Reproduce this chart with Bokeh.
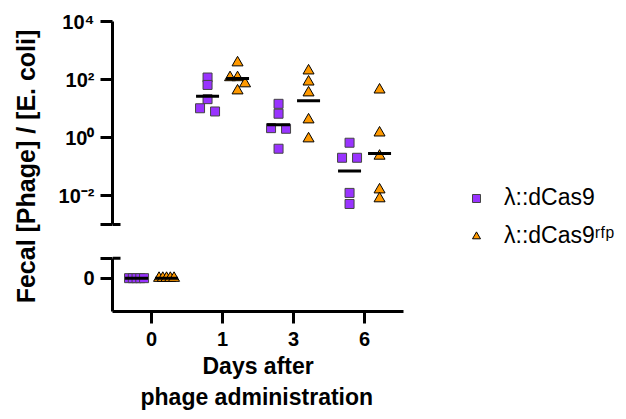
import numpy as np
from bokeh.plotting import figure
from bokeh.models import (ColumnDataSource, Range1d, FixedTicker, Legend, LegendItem, LinearScale, Title)
from bokeh.embed import file_html
from bokeh.resources import INLINE

# ---------------- data ----------------
days = ["0", "1", "3", "6"]
series_names = ["λ::dCas9", "λ::dCas9ʳᶠᵖ"]

dcas9_day0 = [0, 0, 0, 0, 0]
dcas9_day1 = [117, 65, 21, 10.2, 7.9]
dcas9_day3 = [14.5, 6.6, 2.1, 2.0, 0.41]
dcas9_day6 = [0.66, 0.20, 0.20, 0.0123, 0.0051]

rfp_day0 = [0, 0, 0, 0, 0]
rfp_day1 = [380, 117, 117, 72, 41]
rfp_day3 = [200, 83, 35, 4.1, 0.91]
rfp_day6 = [44, 1.45, 0.23, 0.0158, 0.0078]

y_tick_values = [1e-2, 1, 1e2, 1e4]
y_tick_labels = ["10⁻²", "10⁰", "10²", "10⁴"]
zero_tick_label = "0"
x_title_lines = ["Days after", "phage administration"]
y_title = "Fecal [Phage] / [E. coli]"

# ---------------- style / layout ----------------
FONT = "Liberation Sans"
PURPLE = "#9933FF"
ORANGE = "#FF9900"
W, H = 620, 415
BL, BR, BT, BB = 112, 5, 21, 104
FRAME_H = H - BT - BB
PX_PER_DAY = 71.0
X_START = -0.55
X_END = X_START + (W - BL - BR) / PX_PER_DAY
X_AXIS_END = X_START + 291 / PX_PER_DAY
GROUP_OFF = 15 / PX_PER_DAY
SPREAD = 7.5 / PX_PER_DAY
MEAN_HALF = 11.5 / PX_PER_DAY
CAP_HALF = 8 / PX_PER_DAY
LOG_MIN, LOG_MAX = 1e-6, 1e4          # main (log) axis range
LOG_BOTTOM = 1e-3                      # lower end of the log segment
Z0, Z1 = -1.0, 7.7                     # linear range for the "0" segment
CAP_LIN = 0.6                          # upper end of the "0" segment

series = [
    dict(name=series_names[0], groups=[dcas9_day0, dcas9_day1, dcas9_day3, dcas9_day6],
         off=-GROUP_OFF, marker="square", size=9, fill=PURPLE, line="#444444"),
    dict(name=series_names[1], groups=[rfp_day0, rfp_day1, rfp_day3, rfp_day6],
         off=GROUP_OFF, marker="triangle", size=11, fill=ORANGE, line="black"),
]


def lin_frac(v):
    return (v - Z0) / (Z1 - Z0)


def log_frac(v):
    return (np.log10(v) - np.log10(LOG_MIN)) / (np.log10(LOG_MAX) - np.log10(LOG_MIN))


def lin_to_log(v):
    return 10 ** (np.log10(LOG_MIN) + lin_frac(v) * (np.log10(LOG_MAX) - np.log10(LOG_MIN)))


def swarm(vals, thr=0.25):
    key = [np.log10(v) if v > 0 else -99.0 for v in vals]
    order = sorted(range(len(vals)), key=lambda i: -key[i])
    clusters = []
    for i in order:
        if clusters and key[clusters[-1][0]] - key[i] < thr:
            clusters[-1].append(i)
        else:
            clusters.append([i])
    offs = [0.0] * len(vals)
    for c in clusters:
        if len(c) > 1:
            for j, i in enumerate(c):
                offs[i] = -SPREAD + 2 * SPREAD * j / (len(c) - 1)
    return offs


def style_axis(ax):
    ax.axis_line_width = 3
    ax.axis_line_color = "black"
    ax.major_tick_line_width = 3
    ax.major_tick_line_color = "black"
    ax.major_tick_out = 12
    ax.major_tick_in = 0
    ax.minor_tick_out = 0
    ax.minor_tick_in = 0
    ax.major_label_text_font = FONT
    ax.major_label_text_font_style = "bold"
    ax.major_label_text_font_size = "20px"
    ax.major_label_text_color = "black"
    ax.major_label_standoff = 6
    ax.axis_label_text_font = FONT
    ax.axis_label_text_font_style = "bold"
    ax.axis_label_text_color = "black"


p = figure(width=W, height=H, y_axis_type="log",
           x_range=Range1d(X_START, X_END), y_range=Range1d(LOG_MIN, LOG_MAX),
           title=None, output_backend="svg", toolbar_location=None,
           min_border_left=BL, min_border_right=BR, min_border_top=BT, min_border_bottom=BB)
p.extra_y_ranges = {"zero": Range1d(Z0, Z1)}
p.extra_y_scales = {"zero": LinearScale()}
p.outline_line_color = None
p.grid.visible = False

# ---- broken y axis ----
zero_tick = lin_to_log(0)
cap_tick = lin_to_log(CAP_LIN)
ya = p.yaxis[0]
style_axis(ya)
ya.ticker = FixedTicker(ticks=[zero_tick, cap_tick, LOG_BOTTOM] + y_tick_values)
overrides = {zero_tick: zero_tick_label, cap_tick: "", LOG_BOTTOM: ""}
for v, l in zip(y_tick_values, y_tick_labels):
    overrides[v] = l
ya.major_label_overrides = overrides
seg_low = lin_frac(CAP_LIN) * FRAME_H
gap = (log_frac(LOG_BOTTOM) - lin_frac(CAP_LIN)) * FRAME_H
rest = FRAME_H - seg_low - gap
ya.axis_line_dash = f"{round(seg_low)} {round(gap)} {round(rest) + 5}"
ya.axis_label = y_title
ya.axis_label_text_font_size = "25px"
ya.axis_label_standoff = 16

# ---- x axis ----
xa = p.xaxis[0]
style_axis(xa)
xa.major_label_standoff = 8
xa.ticker = FixedTicker(ticks=list(range(len(days))))
xa.major_label_overrides = {i: d for i, d in enumerate(days)}
xa.bounds = (X_START, X_AXIS_END)
for line, off, so in zip(x_title_lines, [90, 28], [5, 0]):
    p.add_layout(Title(text=line, align="left", offset=off, standoff=so,
                       text_font=FONT, text_font_style="bold", text_font_size="23px",
                       text_color="black"), "below")

legend_items = []
for s in series:
    tx, ty, zx, zy = [], [], [], []
    mx0, mx1, my, zmx0, zmx1, zmy = [], [], [], [], [], []
    for gi, vals in enumerate(s["groups"]):
        offs = swarm(vals)
        center = gi + s["off"]
        pos = [v for v in vals if v > 0]
        for v, o in zip(vals, offs):
            if v > 0:
                tx.append(center + o); ty.append(v)
            else:
                zx.append(center + o); zy.append(0)
        if len(pos) == len(vals):
            mx0.append(center - MEAN_HALF); mx1.append(center + MEAN_HALF)
            my.append(10 ** np.mean(np.log10(pos)))
        else:
            zmx0.append(center - MEAN_HALF); zmx1.append(center + MEAN_HALF)
            zmy.append(float(np.mean(vals)))
    r = p.scatter(x="x", y="y", source=ColumnDataSource(dict(x=tx, y=ty)),
                  marker=s["marker"], size=s["size"], fill_color=s["fill"],
                  line_color=s["line"], line_width=1)
    p.scatter(x="x", y="y", source=ColumnDataSource(dict(x=zx, y=zy)), y_range_name="zero",
              marker=s["marker"], size=s["size"], fill_color=s["fill"],
              line_color=s["line"], line_width=1)
    p.segment(x0="x0", x1="x1", y0="y", y1="y",
              source=ColumnDataSource(dict(x0=mx0, x1=mx1, y=my)),
              line_width=3, line_color="black")
    p.segment(x0="x0", x1="x1", y0="y", y1="y", y_range_name="zero",
              source=ColumnDataSource(dict(x0=zmx0, x1=zmx1, y=zmy)),
              line_width=3, line_color="black")
    legend_items.append(LegendItem(label=s["name"], renderers=[r]))

# axis-break caps (inner half; outer half is the blank tick)
p.segment(x0=[X_START], x1=[X_START + CAP_HALF], y0=[LOG_BOTTOM], y1=[LOG_BOTTOM],
          line_width=3, line_color="black")
p.segment(x0=[X_START], x1=[X_START + CAP_HALF], y0=[CAP_LIN], y1=[CAP_LIN],
          y_range_name="zero", line_width=3, line_color="black")

legend = Legend(items=legend_items, location=(354, 62))
legend.margin = 0
legend.padding = 0
legend.spacing = 11
legend.glyph_width = 20
legend.glyph_height = 24
legend.label_height = 24
legend.label_standoff = 18
legend.label_text_font = FONT
legend.label_text_font_size = "23px"
legend.label_text_color = "black"
legend.border_line_color = None
legend.background_fill_alpha = 0
p.add_layout(legend)

open("out.html", "w").write(file_html(p, INLINE))
